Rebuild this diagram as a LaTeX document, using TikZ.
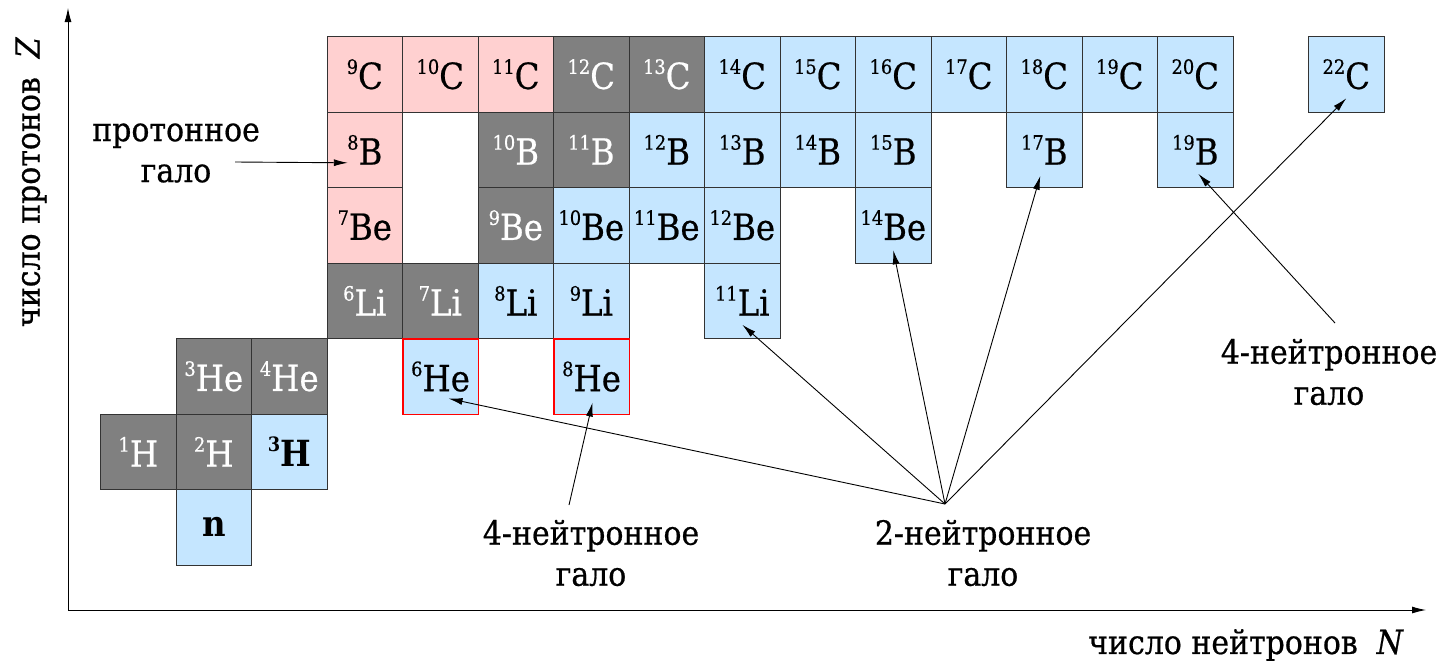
\documentclass[tikz,border=0pt]{standalone}
\usepackage{fontspec}
\setmainfont{DejaVu Serif Condensed}[Scale=0.9, UprightFeatures={FakeBold=0.6}, ItalicFeatures={FakeBold=0.6}]
\usetikzlibrary{arrows.meta,calc}
\definecolor{cpink}{HTML}{FFD0D0}
\definecolor{cgray}{HTML}{808080}
\definecolor{cblue}{HTML}{C5E6FF}
\definecolor{cline}{HTML}{333333}
\newcommand\iso[2]{\raisebox{15pt}{\fontsize{22}{22}\selectfont #1}#2}
\newcommand\cellat[5]{\node[#1] (#2) at ({100+75.5*#3},{36+75.5*(6-#4)}) {#5};}
\begin{document}
\begin{tikzpicture}[x=1pt,y=-1pt,
  cell/.style={draw=cline, line width=1.1pt, minimum size=75.5pt, inner sep=0pt,
    anchor=north west, font=\fontsize{40}{40}\selectfont},
  pk/.style={cell,fill=cpink},
  gr/.style={cell,fill=cgray,text=white},
  bl/.style={cell,fill=cblue},
  halo/.style={bl,draw=red,line width=1.6pt},
  lbl/.style={font=\fontsize{37}{41}\selectfont, align=center, inner sep=0pt},
  arr/.style={-{Latex[length=14pt,width=7pt]}, line width=0.9pt}]
\useasboundingbox (0,0) rectangle (1447,667);
% axes
\coordinate (O) at (68,610);
\coordinate (Ytip) at (68,8);
\coordinate (Xtip) at (1426,610);
\draw[arr] (O) -- (Ytip);
\draw[arr] (O) -- (Xtip);
\node[lbl, rotate=90] (ylab) at (31,182) {число протонов\ \ \textit{Z}};
\node[lbl] (xlab) at (1246,645) {число нейтронов\ \ \textit{N}};
% Z=0
\cellat{bl}{n}{1}{0}{\textbf{n}}
% Z=1
\cellat{gr}{H1}{0}{1}{\iso{1}{H}}
\cellat{gr}{H2}{1}{1}{\iso{2}{H}}
\cellat{bl}{H3}{2}{1}{\textbf{\iso{3}{H}}}
% Z=2
\cellat{gr}{He3}{1}{2}{\iso{3}{He}}
\cellat{gr}{He4}{2}{2}{\iso{4}{He}}
% Z=3
\cellat{gr}{Li6}{3}{3}{\iso{6}{Li}}
\cellat{gr}{Li7}{4}{3}{\iso{7}{Li}}
\cellat{bl}{Li8}{5}{3}{\iso{8}{Li}}
\cellat{bl}{Li9}{6}{3}{\iso{9}{Li}}
\cellat{bl}{Li11}{8}{3}{\iso{11}{Li}}
% Z=4
\cellat{pk}{Be7}{3}{4}{\iso{7}{Be}}
\cellat{gr}{Be9}{5}{4}{\iso{9}{Be}}
\cellat{bl}{Be10}{6}{4}{\iso{10}{Be}}
\cellat{bl}{Be11}{7}{4}{\iso{11}{Be}}
\cellat{bl}{Be12}{8}{4}{\iso{12}{Be}}
\cellat{bl}{Be14}{10}{4}{\iso{14}{Be}}
% Z=5
\cellat{pk}{B8}{3}{5}{\iso{8}{B}}
\cellat{gr}{B10}{5}{5}{\iso{10}{B}}
\cellat{gr}{B11}{6}{5}{\iso{11}{B}}
\cellat{bl}{B12}{7}{5}{\iso{12}{B}}
\cellat{bl}{B13}{8}{5}{\iso{13}{B}}
\cellat{bl}{B14}{9}{5}{\iso{14}{B}}
\cellat{bl}{B15}{10}{5}{\iso{15}{B}}
\cellat{bl}{B17}{12}{5}{\iso{17}{B}}
\cellat{bl}{B19}{14}{5}{\iso{19}{B}}
% Z=6
\cellat{pk}{C9}{3}{6}{\iso{9}{C}}
\cellat{pk}{C10}{4}{6}{\iso{10}{C}}
\cellat{pk}{C11}{5}{6}{\iso{11}{C}}
\cellat{gr}{C12}{6}{6}{\iso{12}{C}}
\cellat{gr}{C13}{7}{6}{\iso{13}{C}}
\cellat{bl}{C14}{8}{6}{\iso{14}{C}}
\cellat{bl}{C15}{9}{6}{\iso{15}{C}}
\cellat{bl}{C16}{10}{6}{\iso{16}{C}}
\cellat{bl}{C17}{11}{6}{\iso{17}{C}}
\cellat{bl}{C18}{12}{6}{\iso{18}{C}}
\cellat{bl}{C19}{13}{6}{\iso{19}{C}}
\cellat{bl}{C20}{14}{6}{\iso{20}{C}}
\cellat{bl}{C22}{16}{6}{\iso{22}{C}}
% halo cells drawn last
\cellat{halo}{He6}{4}{2}{\iso{6}{He}}
\cellat{halo}{He8}{6}{2}{\iso{8}{He}}
% annotations
\node[lbl] (ph) at (176,153) {протонное\\гало};
\node[lbl] (n4a) at (591,553) {4-нейтронное\\гало};
\node[lbl] (n2) at (983,553) {2-нейтронное\\гало};
\node[lbl] (n4b) at (1329,372) {4-нейтронное\\гало};
\coordinate (phs) at (235,162);
\coordinate (n4as) at (569,505);
\coordinate (n2s) at (945,504);
\coordinate (n4bs) at (1335,323);
\draw[arr] (phs) -- ($(B8.center)+(-17,13)$);
\draw[arr] (n4as) -- ($(He8.center)+(1,26)$);
\draw[arr] (n2s) -- ($(He6.center)+(8,22)$);
\draw[arr] (n2s) -- ($(Li11.center)+(0,24)$);
\draw[arr] (n2s) -- ($(Be14.center)+(0,25)$);
\draw[arr] (n2s) -- ($(B17.center)+(-4,26)$);
\draw[arr] (n2s) -- ($(C22.center)+(0,24)$);
\draw[arr] (n4bs) -- ($(B19.center)+(3,24)$);
\end{tikzpicture}
\end{document}
